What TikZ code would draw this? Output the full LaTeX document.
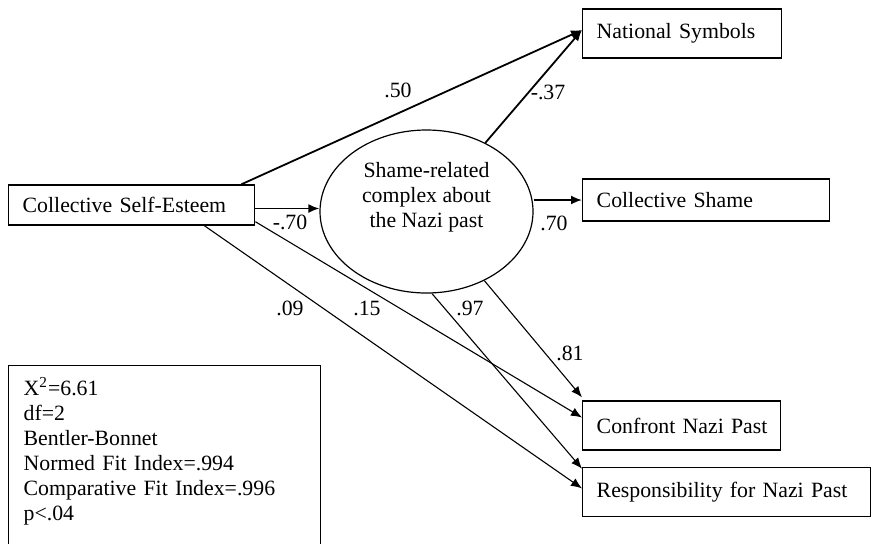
\documentclass[tikz,border=0pt]{standalone}
\usepackage{fontspec}
\setmainfont{Liberation Serif}
\usetikzlibrary{shapes.geometric, arrows.meta, positioning}
\tikzset{
  obs/.style    = {rectangle, draw, line width=0.7pt, anchor=west, align=left,
                   text width=#1, inner xsep=7pt, inner ysep=0pt,
                   font=\fontsize{10.9}{12.5}\selectfont},
  latent/.style = {ellipse, draw, line width=0.6pt, minimum width=106.5pt,
                   minimum height=81.5pt, inner sep=0pt},
  lbl/.style    = {font=\fontsize{10.9}{12.5}\selectfont, inner sep=0pt},
  coef/.style   = {font=\fontsize{10.9}{12.5}\selectfont, inner sep=0pt},
  fitbox/.style = {rectangle, draw, line width=0.7pt, anchor=north west,
                   align=left, text width=141pt, inner xsep=7.5pt, inner ysep=6pt,
                   font=\fontsize{10.9}{12.5}\selectfont},
  arr/.style    = {-{Latex[length=5.5pt, width=4.5pt]}, line width=0.9pt},
  tarr/.style   = {-{Latex[length=5.5pt, width=4.5pt]}, line width=0.55pt},
}

\begin{document}
\begin{tikzpicture}[x=0.5pt, y=-0.5pt]
  \useasboundingbox (0,0) rectangle (871,543);

  % observed variables
  \node[obs=109pt, minimum height=20pt]    (cse)      at (8,205)     {Collective Self-Esteem};
  \node[obs=85.5pt, minimum height=24.5pt] (natsym)   at (582,33.5)  {National Symbols};
  \node[obs=109.5pt, minimum height=21pt]  (colsh)    at (582,200)   {Collective Shame};
  \node[obs=85pt, minimum height=24.5pt]   (confront) at (582,425.5) {\mbox{Confront Nazi Past}};
  \node[obs=130pt, minimum height=24.5pt, below=8pt of confront.south west,
        anchor=north west] (resp) {Responsibility for Nazi Past};

  % latent factor
  \node[latent] (shame) at (426.5,211.5) {};
  \node[lbl, align=center] (shametxt) at ([yshift=7.25pt]shame.center)
       {Shame-related\\complex about\\the Nazi past};

  % fit statistics
  \node[fitbox] (gof) at (8,365)
       {X\textsuperscript{2}=6.61\\df=2\\Bentler-Bonnet\\Normed Fit Index=.994\\
        Comparative Fit Index=.996\\p<.04\\~};

  % paths
  \coordinate (csein) at ([yshift=-1.75pt]cse.east);
  \draw[arr]  ([xshift=-7pt]cse.north east) -- ([yshift=1.75pt]natsym.west);
  \draw[arr]  (shame) -- ([yshift=1.75pt]natsym.west);
  \draw[arr]  (csein) -- (csein -| shame.west);
  \draw[arr]  (shame.east |- colsh.west) -- (colsh.west);
  \draw[tarr] ([yshift=2pt]cse.south east) -- ([yshift=4pt]confront.west);
  \draw[tarr] ([xshift=-25.5pt]cse.south east) -- ([yshift=1.75pt]resp.west);
  \draw[tarr] (shame) -- ([yshift=1.5pt]confront.north west);
  \draw[tarr] ([xshift=2.75pt]shame.south) -- ([yshift=-1pt]resp.north west);

  % coefficients
  \node[coef] (c50)  at (398,90)  {.50};
  \node[coef] (c37)  at (548,92)  {-.37};
  \node[coef] (c70n) at (290,222) {-.70};
  \node[coef] (c70)  at (554,223) {.70};
  \node[coef] (c09)  at (290,308) {.09};
  \node[coef] (c15)  at (367,308) {.15};
  \node[coef] (c97)  at (470,308) {.97};
  \node[coef] (c81)  at (570,353) {.81};

\end{tikzpicture}
\end{document}
